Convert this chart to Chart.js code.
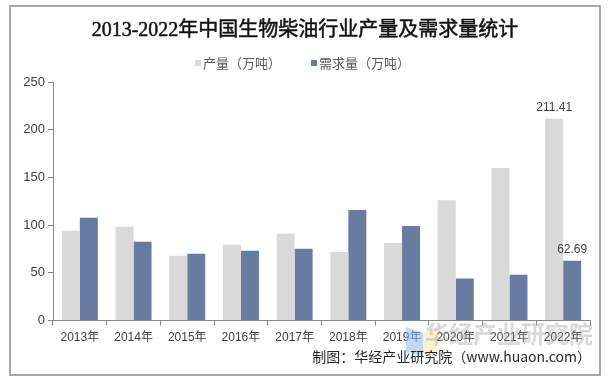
<!DOCTYPE html>
<html>
<head>
<meta charset="utf-8">
<script src="https://cdn.jsdelivr.net/npm/chart.js@4/dist/chart.umd.min.js"></script>
<style>
html,body{margin:0;padding:0;background:#fff;}
#wrap{width:609px;height:382px;position:relative;}
</style>
</head>
<body>
<div id="wrap"><canvas id="c" width="609" height="382"></canvas></div>
<script>
const categories = ["2013年","2014年","2015年","2016年","2017年","2018年","2019年","2020年","2021年","2022年"];
const production = [94.1, 98.3, 68, 79.5, 91, 72, 81.3, 126, 160, 211.41];
const demand = [107.7, 82.6, 70, 73.2, 75.3, 116, 99, 44, 48, 62.69];
const seriesNames = ["产量（万吨）", "需求量（万吨）"];
const seriesColors = ["#D9D9D9", "#687BA1"];
const yTicks = [0, 50, 100, 150, 200, 250];
const titleText = "2013-2022年中国生物柴油行业产量及需求量统计";
const sourceText = "制图：华经产业研究院（www.huaon.com）";
const watermarkText = "华经产业研究院";

const FONT = '"Liberation Sans", Arial, "Noto Sans CJK SC", sans-serif';
const CJK = '"Noto Sans CJK SC", "Liberation Sans", sans-serif';
const TITLEFONT = '"Liberation Serif", "Noto Sans CJK SC", serif';

const decor = {
  id: 'decor',
  beforeDraw(chart) {
    const ctx = chart.ctx;
    ctx.save();
    ctx.fillStyle = '#fff';
    ctx.fillRect(0, 0, chart.width, chart.height);
    ctx.strokeStyle = '#8a8a8a';
    ctx.lineWidth = 1.5;
    ctx.strokeRect(10, 6, 590, 369);
    ctx.font = '20px ' + TITLEFONT;
    ctx.fillStyle = '#111';
    ctx.strokeStyle = '#111';
    ctx.lineWidth = 0.5;
    ctx.textAlign = 'center';
    ctx.textBaseline = 'middle';
    ctx.fillText(titleText, 305, 31);
    ctx.strokeText(titleText, 305, 31);
    ctx.font = '13px ' + CJK;
    ctx.textAlign = 'left';
    const lx = [195, 311];
    seriesNames.forEach((n, i) => {
      ctx.fillStyle = seriesColors[i];
      ctx.fillRect(lx[i], 60, 6, 6);
      ctx.fillStyle = '#595959';
      ctx.fillText(n, lx[i] + 8, 63);
    });
    ctx.restore();
  },
  afterDraw(chart) {
    const ctx = chart.ctx;
    ctx.save();
    const last = categories.length - 1;
    ctx.font = '12px ' + FONT;
    ctx.fillStyle = '#404040';
    ctx.textAlign = 'center';
    ctx.textBaseline = 'bottom';
    [0, 1].forEach(di => {
      const el = chart.getDatasetMeta(di).data[last];
      const v = chart.data.datasets[di].data[last];
      ctx.fillText(v.toFixed(2), el.x, el.y - 5);
    });
    ctx.globalAlpha = 0.55;
    ctx.fillStyle = '#8fb8f0';
    ctx.beginPath();
    ctx.moveTo(406, 327); ctx.lineTo(423, 333); ctx.lineTo(423, 356); ctx.lineTo(406, 352); ctx.closePath(); ctx.fill();
    ctx.fillStyle = '#fbe7a0';
    ctx.beginPath();
    ctx.moveTo(423, 333); ctx.lineTo(437, 327); ctx.lineTo(437, 352); ctx.lineTo(423, 356); ctx.closePath(); ctx.fill();
    ctx.globalAlpha = 1;
    ctx.font = 'bold 24px ' + CJK;
    ctx.fillStyle = 'rgba(160,160,160,0.4)';
    ctx.textAlign = 'left';
    ctx.textBaseline = 'middle';
    ctx.fillText(watermarkText, 425, 334);
    ctx.font = '14px ' + CJK;
    ctx.fillStyle = '#262626';
    ctx.textAlign = 'right';
    ctx.fillText(sourceText, 591, 357);
    ctx.restore();
  }
};

new Chart(document.getElementById('c'), {
  type: 'bar',
  data: {
    labels: categories,
    datasets: [
      { label: seriesNames[0], data: production, backgroundColor: seriesColors[0], borderWidth: 0 },
      { label: seriesNames[1], data: demand, backgroundColor: seriesColors[1], borderWidth: 0 }
    ]
  },
  options: {
    responsive: false,
    animation: false,
    devicePixelRatio: 1,
    layout: { padding: { left: 10, right: 19, top: 82, bottom: 32 } },
    datasets: { bar: { categoryPercentage: 0.67, barPercentage: 1 } },
    plugins: {
      title: { display: false },
      legend: { display: false },
      tooltip: { enabled: false }
    },
    scales: {
      x: {
        grid: { display: true, drawOnChartArea: false, drawTicks: true, tickLength: 5, color: '#868686', offset: true },
        border: { display: true, color: '#868686', width: 1 },
        ticks: { color: '#404040', font: { family: FONT, size: 12 }, padding: 5, maxRotation: 0, autoSkip: false }
      },
      y: {
        min: 0, max: 250,
        afterBuildTicks(scale) { scale.ticks = yTicks.map(v => ({ value: v })); },
        afterFit(scale) { scale.width = 43; },
        grid: { display: true, drawOnChartArea: false, drawTicks: true, tickLength: 5, color: '#868686' },
        border: { display: true, color: '#868686', width: 1 },
        ticks: { color: '#404040', font: { family: FONT, size: 13 }, padding: 3 }
      }
    }
  },
  plugins: [decor]
});
</script>
</body>
</html>
